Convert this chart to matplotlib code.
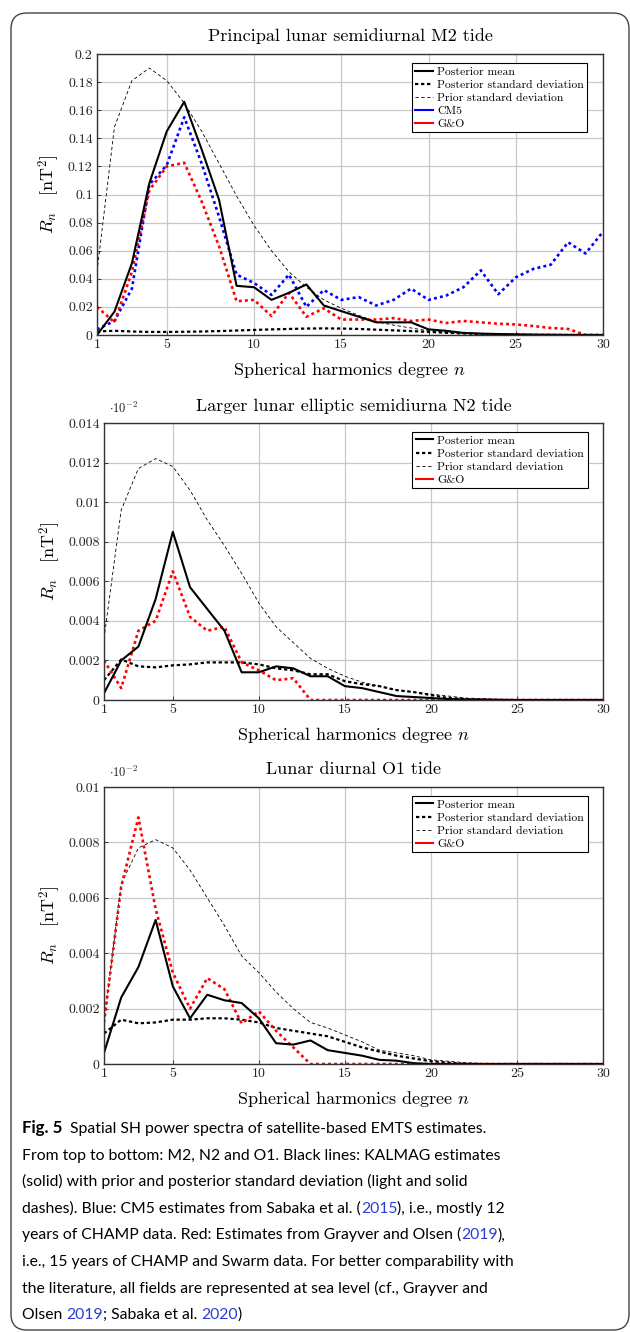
import numpy as np
import matplotlib
matplotlib.use('Agg')
import matplotlib.pyplot as plt
from matplotlib.lines import Line2D
from matplotlib.patches import FancyBboxPatch
from matplotlib.transforms import IdentityTransform

plt.rcParams['font.family'] = ['cmr10', 'DejaVu Serif']
plt.rcParams['mathtext.fontset'] = 'cm'
plt.rcParams['axes.formatter.use_mathtext'] = True

# spherical harmonic degree
n = np.arange(1, 31)

# M2 tide
m2_post_mean = [0.0, 0.0166, 0.051, 0.108, 0.145, 0.166, 0.132, 0.096, 0.035, 0.034,
                0.025, 0.030, 0.036, 0.021, 0.017, 0.013, 0.009, 0.009, 0.009, 0.004,
                0.003, 0.0015, 0.001, 0.0007, 0.0005, 0.0003, 0.0002, 0.0001, 0.0001, 0.0]
m2_post_std = [0.0025, 0.003, 0.0025, 0.0022, 0.0022, 0.0023, 0.0025, 0.0028, 0.0032, 0.0036,
               0.004, 0.0043, 0.0046, 0.0047, 0.0046, 0.0043, 0.0038, 0.0033, 0.0028, 0.0022,
               0.0016, 0.0011, 0.0007, 0.0004, 0.0002, 0.0001, 0.0001, 0.0, 0.0, 0.0]
m2_prior_std = [0.045, 0.148, 0.181, 0.190, 0.181, 0.165, 0.145, 0.122, 0.099, 0.078,
                0.060, 0.045, 0.034, 0.025, 0.019, 0.014, 0.0095, 0.007, 0.005, 0.003,
                0.002, 0.0012, 0.0007, 0.0004, 0.0002, 0.0001, 0.0001, 0.0, 0.0, 0.0]
m2_cm5 = [0.004, 0.010, 0.033, 0.107, 0.121, 0.155, 0.122, 0.084, 0.043, 0.037,
          0.0285, 0.043, 0.020, 0.032, 0.025, 0.027, 0.021, 0.025, 0.033, 0.025,
          0.028, 0.034, 0.046, 0.029, 0.041, 0.047, 0.050, 0.066, 0.058, 0.0735]
m2_go = [0.020, 0.009, 0.045, 0.103, 0.120, 0.1226, 0.095, 0.063, 0.024, 0.025,
         0.0135, 0.030, 0.013, 0.019, 0.011, 0.011, 0.011, 0.012, 0.010, 0.011,
         0.0085, 0.010, 0.009, 0.008, 0.0075, 0.0064, 0.005, 0.0043, 0.0, 0.0]

# N2 tide
n2_post_mean = [0.00034, 0.002, 0.0027, 0.0051, 0.0085, 0.0057, 0.0046, 0.0035, 0.0014, 0.0014,
                0.0017, 0.0016, 0.0012, 0.0012, 0.0007, 0.0006, 0.0004, 0.0002, 0.00015, 0.0001,
                0.00005, 0.00003, 0.00002, 0.0, 0.0, 0.0, 0.0, 0.0, 0.0, 0.0]
n2_post_std = [0.001, 0.00205, 0.0017, 0.00165, 0.00175, 0.0018, 0.0019, 0.0019, 0.0019, 0.0018,
               0.0016, 0.0015, 0.0013, 0.0013, 0.00095, 0.0008, 0.0007, 0.0005, 0.0004, 0.00025,
               0.0001, 0.00005, 0.0, 0.0, 0.0, 0.0, 0.0, 0.0, 0.0, 0.0]
n2_prior_std = [0.0031, 0.0096, 0.0117, 0.0122, 0.0118, 0.0106, 0.0091, 0.0078, 0.0064, 0.0049,
                0.0037, 0.0029, 0.0021, 0.0016, 0.0012, 0.0009, 0.0007, 0.0005, 0.0004, 0.0003,
                0.0002, 0.0001, 0.00007, 0.00005, 0.00003, 0.0, 0.0, 0.0, 0.0, 0.0]
n2_go = [0.002, 0.0006, 0.0035, 0.004, 0.0065, 0.0042, 0.0035, 0.0037, 0.0019, 0.0015,
         0.001, 0.0011, 0.0, 0.0, 0.0, 0.0, 0.0, 0.0, 0.0, 0.0,
         0.0, 0.0, 0.0, 0.0, 0.0, 0.0, 0.0, 0.0, 0.0, 0.0]

# O1 tide
o1_post_mean = [0.0004, 0.0024, 0.0035, 0.0052, 0.0028, 0.00165, 0.0025, 0.0023, 0.0022, 0.00165,
                0.00075, 0.0007, 0.00085, 0.0005, 0.0004, 0.0003, 0.00015, 0.00012, 0.00003, 0.0,
                0.0, 0.0, 0.0, 0.0, 0.0, 0.0, 0.0, 0.0, 0.0, 0.0]
o1_post_std = [0.0011, 0.0016, 0.00147, 0.0015, 0.0016, 0.0016, 0.00165, 0.00165, 0.0016, 0.0015,
               0.0013, 0.0012, 0.0011, 0.001, 0.0008, 0.0006, 0.00045, 0.0003, 0.0002, 0.0001,
               0.00005, 0.0, 0.0, 0.0, 0.0, 0.0, 0.0, 0.0, 0.0, 0.0]
o1_prior_std = [0.0015, 0.0065, 0.0078, 0.0081, 0.0078, 0.007, 0.006, 0.005, 0.0039, 0.0033,
                0.0026, 0.002, 0.0015, 0.0013, 0.00105, 0.0008, 0.0005, 0.0004, 0.0003, 0.00015,
                0.0001, 0.00005, 0.00002, 0.0, 0.0, 0.0, 0.0, 0.0, 0.0, 0.0]
o1_go = [0.0015, 0.0064, 0.0089, 0.0056, 0.0033, 0.002, 0.0031, 0.0027, 0.00147, 0.0019,
         0.0012, 0.0006, 0.0, 0.0, 0.0, 0.0, 0.0, 0.0, 0.0, 0.0,
         0.0, 0.0, 0.0, 0.0, 0.0, 0.0, 0.0, 0.0, 0.0, 0.0]

x_ticks = [1, 5, 10, 15, 20, 25, 30]
m2_yticks = [0, 0.02, 0.04, 0.06, 0.08, 0.1, 0.12, 0.14, 0.16, 0.18, 0.2]
m2_ylabels = ['0', '0.02', '0.04', '0.06', '0.08', '0.1', '0.12', '0.14', '0.16', '0.18', '0.2']
n2_yticks = [0, 0.002, 0.004, 0.006, 0.008, 0.01, 0.012, 0.014]
n2_ylabels = ['0', '0.002', '0.004', '0.006', '0.008', '0.01', '0.012', '0.014']
o1_yticks = [0, 0.002, 0.004, 0.006, 0.008, 0.01]
o1_ylabels = ['0', '0.002', '0.004', '0.006', '0.008', '0.01']

fig = plt.figure(figsize=(6.3, 13.32), dpi=100)

# rounded frame round the whole figure
frame = FancyBboxPatch((11, 2), 618, 1317, boxstyle='round,pad=0,rounding_size=16',
                       transform=IdentityTransform(), facecolor='none',
                       edgecolor='#444444', linewidth=1.0)
fig.add_artist(frame)

ax1 = fig.add_axes([97 / 630, 1 - 335 / 1332, 506 / 630, 281 / 1332])
ax2 = fig.add_axes([104 / 630, 1 - 700 / 1332, 499 / 630, 277 / 1332])
ax3 = fig.add_axes([104 / 630, 1 - 1064 / 1332, 499 / 630, 277 / 1332])

style_mean = dict(color='black', linewidth=1.5, linestyle='-')
style_post = dict(color='black', linewidth=1.6, linestyle=(0, (1.5, 1.2)))
style_prior = dict(color='black', linewidth=0.6, linestyle=(0, (4, 3)))
style_cm5 = dict(color='#0000ff', linewidth=1.9, linestyle=(0, (1.1, 1.2)))
style_go = dict(color='#ff0000', linewidth=1.9, linestyle=(0, (1.1, 1.2)))


def setup(ax, yticks, ylabels, title, offset=False):
    ax.set_xlim(1, 30)
    ax.set_ylim(yticks[0], yticks[-1])
    ax.set_xticks(x_ticks)
    ax.set_xticklabels([str(t) for t in x_ticks])
    ax.set_yticks(yticks)
    ax.set_yticklabels(ylabels)
    ax.grid(True, color='#c8c8c8', linewidth=0.9)
    ax.set_axisbelow(True)
    ax.tick_params(direction='in', length=3, width=0.6, labelsize=10, colors='#222222', pad=3)
    for s in ax.spines.values():
        s.set_linewidth(1.0)
        s.set_color('#333333')
    ax.set_title(title, fontsize=13, pad=9)
    ax.set_xlabel(r'Spherical harmonics degree $n$', fontsize=13, labelpad=6)
    ax.set_ylabel(r'$R_n\quad[\mathrm{nT}^2]$', fontsize=13, labelpad=4)
    if offset:
        ax.text(0.01, 1.025, r'$\cdot10^{-2}$', transform=ax.transAxes, fontsize=9,
                ha='left', va='bottom', color='#222222')


def add_legend(ax, with_cm5):
    handles = [Line2D([], [], **style_mean),
               Line2D([], [], **style_post),
               Line2D([], [], **style_prior)]
    labels = ['Posterior mean', 'Posterior standard deviation', 'Prior standard deviation']
    if with_cm5:
        handles.append(Line2D([], [], color='#0000ff', linewidth=1.5))
        labels.append('CM5')
    handles.append(Line2D([], [], color='#ff0000', linewidth=1.5))
    labels.append('G&O')
    leg = ax.legend(handles, labels, loc='upper right', bbox_to_anchor=(0.969, 0.968),
                    fontsize=8.4, frameon=True, fancybox=False, edgecolor='black',
                    framealpha=1, borderaxespad=0, handlelength=1.5, handletextpad=0.35,
                    labelspacing=0.25, borderpad=0.3)
    leg.get_frame().set_linewidth(0.8)


# M2
setup(ax1, m2_yticks, m2_ylabels, 'Principal lunar semidiurnal M2 tide')
ax1.plot(n, m2_prior_std, **style_prior)
ax1.plot(n, m2_post_std, **style_post)
ax1.plot(n, m2_cm5, **style_cm5)
ax1.plot(n, m2_go, **style_go)
ax1.plot(n, m2_post_mean, **style_mean)
add_legend(ax1, True)

# N2
setup(ax2, n2_yticks, n2_ylabels, 'Larger lunar elliptic semidiurna N2 tide', offset=True)
ax2.plot(n, n2_prior_std, **style_prior)
ax2.plot(n, n2_post_std, **style_post)
ax2.plot(n, n2_go, **style_go)
ax2.plot(n, n2_post_mean, **style_mean)
add_legend(ax2, False)

# O1
setup(ax3, o1_yticks, o1_ylabels, 'Lunar diurnal O1 tide', offset=True)
ax3.plot(n, o1_prior_std, **style_prior)
ax3.plot(n, o1_post_std, **style_post)
ax3.plot(n, o1_go, **style_go)
ax3.plot(n, o1_post_mean, **style_mean)
add_legend(ax3, False)

# caption, written piece by piece so the years can be blue
caption_lines = [
    [('Fig. 5', 'bold', 'black'), ('  Spatial SH power spectra of satellite-based EMTS estimates.', 'normal', 'black')],
    [('From top to bottom: M2, N2 and O1. Black lines: KALMAG estimates', 'normal', 'black')],
    [('(solid) with prior and posterior standard deviation (light and solid', 'normal', 'black')],
    [('dashes). Blue: CM5 estimates from Sabaka et al. (', 'normal', 'black'), ('2015', 'normal', '#2b3bd6'),
     ('), i.e., mostly 12', 'normal', 'black')],
    [('years of CHAMP data. Red: Estimates from Grayver and Olsen (', 'normal', 'black'),
     ('2019', 'normal', '#2b3bd6'), ('),', 'normal', 'black')],
    [('i.e., 15 years of CHAMP and Swarm data. For better comparability with', 'normal', 'black')],
    [('the literature, all fields are represented at sea level (cf., Grayver and', 'normal', 'black')],
    [('Olsen ', 'normal', 'black'), ('2019', 'normal', '#2b3bd6'), ('; Sabaka et al. ', 'normal', 'black'),
     ('2020', 'normal', '#2b3bd6'), (')', 'normal', 'black')],
]

renderer = fig.canvas.get_renderer()
cap_font = ['Lato', 'DejaVu Sans']
for i, pieces in enumerate(caption_lines):
    xpix = 22
    ypix = 1332 - (1133 + i * 26.6)
    for txt, weight, col in pieces:
        size = 12.2 if weight == 'bold' else 11.3
        t = fig.text(xpix / 630, ypix / 1332, txt, fontsize=size, family=cap_font,
                     weight=weight, color=col, ha='left', va='baseline')
        bb = t.get_window_extent(renderer)
        xpix += bb.width

fig.savefig('out.png', dpi=100)
